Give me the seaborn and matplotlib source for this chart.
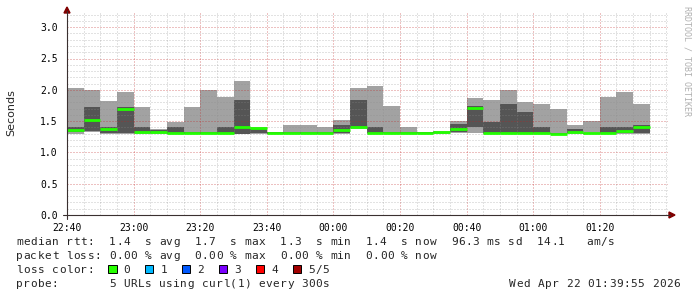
import numpy as np
import matplotlib
matplotlib.use("Agg")
import matplotlib.pyplot as plt
import seaborn as sns
from matplotlib.patches import Rectangle, Polygon
from matplotlib.lines import Line2D

# ---------------- data ----------------
step_min = 5  # each bar covers 5 minutes, first bar starts 22:40
ping_min = [1.30, 1.32, 1.30, 1.30, 1.30, 1.30, 1.29, 1.29, 1.29, 1.29, 1.29, 1.30,
            1.29, 1.29, 1.29, 1.29, 1.30, 1.38, 1.29, 1.30, 1.30, 1.30, 1.30, 1.31,
            1.31, 1.29, 1.30, 1.30, 1.30, 1.29, 1.30, 1.29, 1.30, 1.30, 1.30]
ping_q1 = [1.32, 1.34, 1.31, 1.31, 1.31, 1.31, 1.30, 1.30, 1.30, 1.30, 1.30, 1.31,
           1.30, 1.30, 1.30, 1.30, 1.31, 1.39, 1.31, 1.31, 1.31, 1.31, 1.31, 1.32,
           1.40, 1.31, 1.31, 1.31, 1.31, 1.30, 1.31, 1.30, 1.31, 1.31, 1.31]
ping_med = [1.36, 1.52, 1.38, 1.70, 1.32, 1.33, 1.31, 1.31, 1.31, 1.31, 1.40, 1.39,
            1.31, 1.31, 1.31, 1.31, 1.35, 1.41, 1.31, 1.31, 1.31, 1.31, 1.32, 1.38,
            1.71, 1.31, 1.31, 1.31, 1.31, 1.30, 1.32, 1.31, 1.31, 1.34, 1.40]
ping_q3 = [1.40, 1.73, 1.40, 1.73, 1.41, 1.36, 1.41, 1.33, 1.32, 1.41, 1.84, 1.37,
           1.32, 1.32, 1.32, 1.32, 1.43, 1.84, 1.41, 1.32, 1.32, 1.32, 1.33, 1.46,
           1.74, 1.48, 1.78, 1.64, 1.41, 1.31, 1.38, 1.31, 1.40, 1.41, 1.44]
ping_max = [2.03, 2.00, 1.82, 1.96, 1.73, 1.38, 1.48, 1.73, 2.00, 1.89, 2.14, 1.40,
            1.33, 1.43, 1.43, 1.41, 1.51, 2.03, 2.06, 1.74, 1.40, 1.32, 1.34, 1.50,
            1.87, 1.84, 1.99, 1.80, 1.78, 1.70, 1.44, 1.50, 1.89, 1.97, 1.78]
xtick_labels = ["22:40", "23:00", "23:20", "23:40", "00:00", "00:20", "00:40", "01:00", "01:20"]
ytick_labels = ["0.0", "0.5", "1.0", "1.5", "2.0", "2.5", "3.0"]
legend_lines = [
    "median rtt:  1.4  s avg  1.7  s max  1.3  s min  1.4  s now  96.3 ms sd  14.1   am/s",
    "packet loss: 0.00 % avg  0.00 % max  0.00 % min  0.00 % now",
    "loss color:",
    "probe:       5 URLs using curl(1) every 300s",
]
loss_labels = ["0", "1", "2", "3", "4", "5/5"]
loss_colors = ["#26ff00", "#00b8ff", "#0059ff", "#7a00ff", "#ff0000", "#a10000"]
date_text = "Wed Apr 22 01:39:55 2026"
ylabel = "Seconds"
watermark = "RRDTOOL / TOBI OETIKER"

# ---------------- style ----------------
sns.set_style("white")
plt.rcParams['font.family'] = ['DejaVu Sans Mono', 'DejaVu Sans']

W, H = 697, 297
fig = plt.figure(figsize=(W / 100, H / 100), dpi=100)
fig.patch.set_facecolor("white")


def fx(x):
    return x / W


def fy(y):
    return 1 - y / H


X0, X1, Y0, Y1 = 67, 668, 215, 13
ax = fig.add_axes([fx(X0), fy(Y0), fx(X1) - fx(X0), fy(Y1) - fy(Y0)])
ax.set_facecolor("white")

n = len(ping_med)
t = np.arange(n) * step_min
mn, q1, md, q3, mx = map(np.array, (ping_min, ping_q1, ping_med, ping_q3, ping_max))

ax.bar(t, mx - mn, bottom=mn, width=step_min, align='edge', color='#a2a2a2',
       linewidth=0, zorder=1)
ax.bar(t, q3 - q1, bottom=q1, width=step_min, align='edge', color='#555555',
       linewidth=0, zorder=1.5)
ax.hlines(md, t, t + step_min, color='#22ff00', lw=2.0, zorder=3)

xmax = (X1 - X0) / (66.6 / 20)
ax.set_xlim(0, xmax)
ymax = (Y0 - Y1) / 62.6
ax.set_ylim(0, ymax)

ax.set_xticks(np.arange(len(xtick_labels)) * 20)
ax.set_xticklabels(xtick_labels)
ax.set_xticks(np.arange(0, xmax, 5), minor=True)
ax.set_yticks(np.arange(len(ytick_labels)) * 0.5)
ax.set_yticklabels(ytick_labels)
ax.set_yticks(np.arange(0, ymax, 0.1), minor=True)

ax.set_axisbelow(False)
ax.grid(which='minor', color='#8c8c8c', alpha=0.5, lw=0.72, linestyle=(0, (1, 2)))
ax.grid(which='major', color='#c02020', alpha=0.55, lw=0.72, linestyle=(0, (1, 2)))

for s in ax.spines.values():
    s.set_visible(False)

ax.tick_params(axis='both', which='both', labelsize=7, colors='black')
ax.tick_params(axis='x', which='major', direction='inout', length=5, width=0.7,
               color='#c06060', pad=3.5)
ax.tick_params(axis='x', which='minor', direction='inout', length=3, width=0.7,
               color='#b0b0b0')
ax.tick_params(axis='y', which='major', direction='inout', length=5, width=0.7,
               color='#303030', pad=4)
ax.tick_params(axis='y', which='minor', length=0)

# axis lines with arrows
axis_col = '#3a3030'
arrow_col = '#7f0000'
fig.add_artist(Line2D([fx(63), fx(670)], [fy(Y0), fy(Y0)], color=axis_col, lw=0.8))
fig.add_artist(Line2D([fx(X0), fx(X0)], [fy(219), fy(11)], color=axis_col, lw=0.8))
fig.add_artist(Polygon([(fx(669), fy(212)), (fx(675), fy(215)), (fx(669), fy(218))],
                       closed=True, color=arrow_col, transform=fig.transFigure))
fig.add_artist(Polygon([(fx(64), fy(13)), (fx(67), fy(7)), (fx(70), fy(13))],
                       closed=True, color=arrow_col, transform=fig.transFigure))

# labels
fig.text(fx(11), fy(113), ylabel, rotation=90, ha='center', va='center',
         fontsize=8, family='DejaVu Sans')
fig.text(fx(687), fy(61), watermark, rotation=270, ha='center', va='center',
         fontsize=6, color='#b0b0b0')

# legend text placed on a monospace character grid
pitch = 7.13
x_text = 16
base0 = 244.6
for i, line in enumerate(legend_lines):
    yb = base0 + 14 * i
    for j, ch in enumerate(line):
        if ch != ' ':
            fig.text(fx(x_text + j * pitch + pitch / 2), fy(yb), ch, fontsize=8,
                     ha='center', va='baseline')

# loss colour boxes
yb = base0 + 28
for k, (lab, col) in enumerate(zip(loss_labels, loss_colors)):
    bx = 108.3 + 36.9 * k
    fig.add_artist(Rectangle((fx(bx), fy(yb + 0.5)), fx(8.3), 8.3 / H,
                             facecolor=col, edgecolor='black', lw=0.7,
                             transform=fig.transFigure))
    for j, ch in enumerate(lab):
        fig.text(fx(bx + 15 + j * pitch + pitch / 2), fy(yb), ch, fontsize=8,
                 ha='center', va='baseline')

dx = 680 - len(date_text) * pitch
for j, ch in enumerate(date_text):
    if ch != ' ':
        fig.text(fx(dx + j * pitch + pitch / 2), fy(base0 + 42), ch, fontsize=8,
                 ha='center', va='baseline')

fig.savefig("out.png", dpi=100, facecolor='white')
